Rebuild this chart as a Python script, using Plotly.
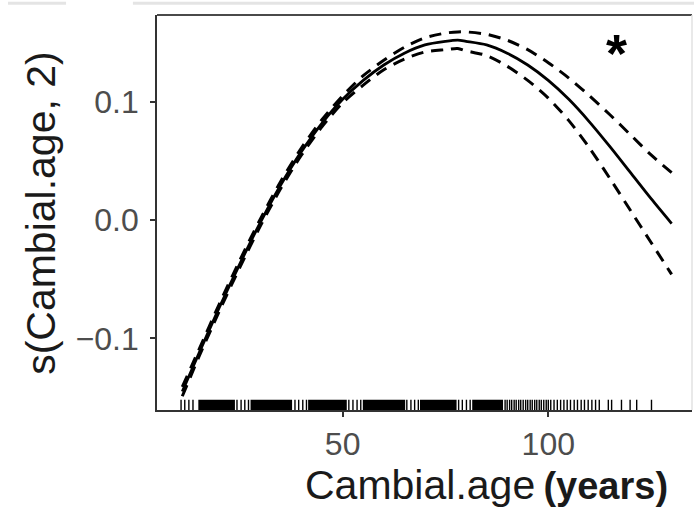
import plotly.graph_objects as go

# Smooth term s(Cambial.age, 2) with its confidence band
age = [11, 15, 20, 25, 30, 35, 40, 45, 50, 55, 60, 65, 70, 75, 78, 80,
       85, 90, 95, 100, 105, 110, 115, 120, 125, 130]
fit = [-0.145, -0.113, -0.074, -0.037, -0.002, 0.030, 0.058, 0.082, 0.102,
       0.118, 0.131, 0.141, 0.148, 0.151, 0.152, 0.151, 0.148, 0.141, 0.131,
       0.118, 0.102, 0.083, 0.062, 0.040, 0.018, -0.003]
upper = [-0.141, -0.110, -0.071, -0.034, 0.001, 0.033, 0.061, 0.085, 0.105,
         0.122, 0.135, 0.146, 0.154, 0.158, 0.159, 0.159, 0.157, 0.152, 0.144,
         0.133, 0.120, 0.105, 0.089, 0.072, 0.055, 0.040]
lower = [-0.149, -0.116, -0.077, -0.040, -0.005, 0.027, 0.055, 0.079, 0.099,
         0.114, 0.127, 0.136, 0.142, 0.144, 0.145, 0.143, 0.139, 0.130, 0.118,
         0.103, 0.084, 0.061, 0.035, 0.008, -0.019, -0.046]

# Rug of observed cambial ages: dense runs as intervals, the rest as single ticks
rug_runs = [(14.9, 23.8), (27.6, 37.7), (41.6, 51.0), (54.9, 65.2),
            (68.8, 77.7), (81.5, 89.0)]
rug_ticks = [10.7, 11.6, 12.6, 13.6,
             24.3, 25.3, 26.2, 27.1,
             38.4, 39.3, 40.3, 41.2,
             51.5, 52.5, 53.5, 54.4,
             65.6, 66.6, 67.5, 68.4,
             78.2, 79.1, 80.1, 81.0,
             89.5, 90.0, 90.6, 91.1, 91.7, 92.2, 92.8, 93.3, 93.9, 94.5,
             95.0, 95.6, 96.1, 96.7, 97.2, 97.8, 98.3, 98.9, 99.5, 100.0,
             100.6, 101.4, 102.2, 103.0, 103.8, 104.6, 105.4, 106.3, 107.1,
             108.0, 108.8, 109.7, 110.6, 111.5, 112.4,
             114.6, 115.4, 117.8, 119.9, 121.5, 125.1]

x_ticks = [50, 100]
y_ticks = [-0.1, 0.0, 0.1]
y_ticktext = ["\u22120.1", "0.0", "0.1"]

FONT = "Liberation Sans, Arial, Helvetica, sans-serif"

fig = go.Figure()

dash_style = "12px,8px"
for band in (upper, lower):
    fig.add_trace(go.Scatter(x=age, y=band, mode="lines",
                             line=dict(color="black", width=3, dash=dash_style,
                                       shape="spline", smoothing=0.8),
                             hoverinfo="skip", showlegend=False))
fig.add_trace(go.Scatter(x=age, y=fit, mode="lines",
                         line=dict(color="black", width=2.8, shape="spline",
                                   smoothing=0.8),
                         showlegend=False))

shapes = []
rug_h = 0.026
for a, b in rug_runs:
    shapes.append(dict(type="rect", xref="x", yref="paper", x0=a, x1=b,
                       y0=0, y1=rug_h, fillcolor="black", line_width=0,
                       layer="above"))
for t in rug_ticks:
    shapes.append(dict(type="line", xref="x", yref="paper", x0=t, x1=t,
                       y0=0, y1=rug_h, line=dict(color="black", width=1.4),
                       layer="above"))
# panel border: dark top edge, faint right edge
shapes.append(dict(type="line", xref="paper", yref="paper", x0=0, x1=1,
                   y0=1, y1=1, line=dict(color="#4a4a4a", width=2)))
shapes.append(dict(type="line", xref="paper", yref="paper", x0=1, x1=1,
                   y0=0, y1=1, line=dict(color="#e2e2e2", width=1.5)))
# faint rules above the panel
shapes.append(dict(type="line", xref="paper", yref="paper", x0=-0.2785,
                   x1=-0.170, y0=1.030, y1=1.030,
                   line=dict(color="#e4e4e4", width=3)))
shapes.append(dict(type="line", xref="paper", yref="paper", x0=-0.045,
                   x1=1.01, y0=1.030, y1=1.030,
                   line=dict(color="#e4e4e4", width=3)))

fig.update_layout(
    width=694, height=510,
    margin=dict(l=157, r=2, t=15, b=100),
    paper_bgcolor="white", plot_bgcolor="white",
    font=dict(family=FONT, color="#4d4d4d"),
    shapes=shapes,
    xaxis=dict(range=[4.85, 134.95], tickvals=x_ticks, showgrid=False,
               zeroline=False, showline=True, linecolor="#333333",
               linewidth=1.6, ticks="outside", ticklen=5, tickwidth=1.6,
               tickcolor="#333333", tickfont=dict(size=32, color="#4d4d4d")),
    yaxis=dict(range=[-0.1606, 0.1733], tickvals=y_ticks,
               ticktext=y_ticktext, showgrid=False, zeroline=False,
               showline=True, linecolor="#333333", linewidth=1.6,
               ticks="outside", ticklen=5, tickwidth=1.6,
               ticklabelstandoff=5,
               tickcolor="#333333", tickfont=dict(size=32, color="#4d4d4d")),
    annotations=[
        dict(text="Cambial.age\u2009<b><span style='font-size:38px'>(years)</span></b>",
             xref="paper", yref="paper",
             x=0.958, y=-0.19, xanchor="right", yanchor="middle",
             showarrow=False, font=dict(size=41, color="#1a1a1a", family=FONT)),
        dict(text="s(Cambial.age, 2)", xref="paper", yref="paper",
             x=-0.218, y=0.5, xanchor="center", yanchor="middle",
             textangle=-90, showarrow=False,
             font=dict(size=41, color="#1a1a1a", family=FONT)),
        dict(text="<b>*</b>", xref="paper", yref="paper", x=0.858, y=0.905,
             xanchor="center", yanchor="middle", showarrow=False,
             font=dict(size=54, color="black", family=FONT)),
    ],
)

fig.write_html("out.html")
